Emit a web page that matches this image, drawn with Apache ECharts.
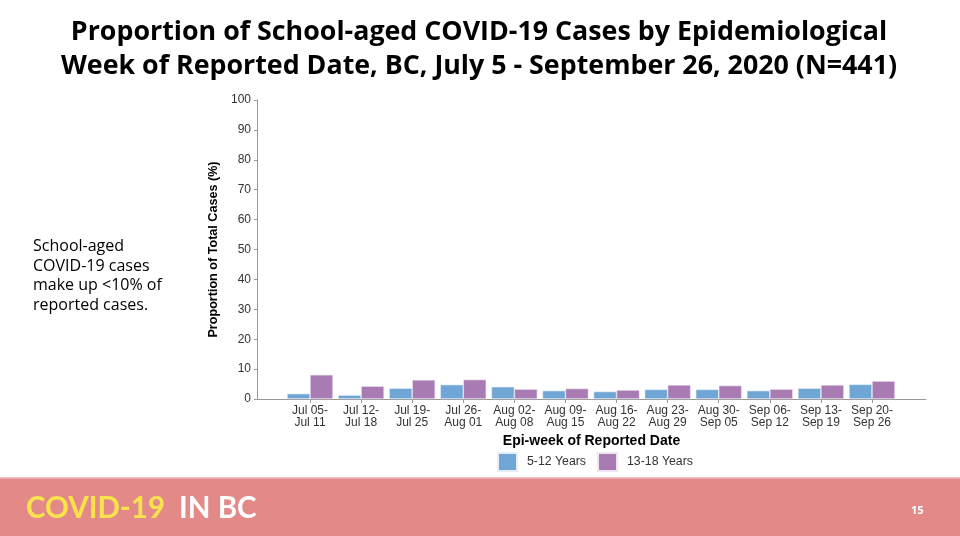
<!DOCTYPE html>
<html><head><meta charset="utf-8">
<script src="https://cdn.jsdelivr.net/npm/echarts@6/dist/echarts.min.js"></script>
<style>html,body{margin:0;padding:0;background:#fff}#c{width:960px;height:536px}</style>
</head><body><div id="c"></div>
<script>
var categories = ['Jul 05-\nJul 11','Jul 12-\nJul 18','Jul 19-\nJul 25','Jul 26-\nAug 01','Aug 02-\nAug 08','Aug 09-\nAug 15','Aug 16-\nAug 22','Aug 23-\nAug 29','Aug 30-\nSep 05','Sep 06-\nSep 12','Sep 13-\nSep 19','Sep 20-\nSep 26'];
var age5to12 = [1.8,1.3,3.6,4.8,4.1,2.8,2.5,3.2,3.2,2.8,3.6,4.9];
var age13to18 = [8.1,4.3,6.4,6.5,3.3,3.5,3.0,4.7,4.5,3.3,4.7,6.0];
var seriesNames = ['5-12 Years','13-18 Years'];
var yTicks = {min:0, max:100, interval:10};

var chart = echarts.init(document.getElementById('c'));
var lab = {fontFamily:'Liberation Sans, Arial', fontSize:12, color:'#333'};
chart.setOption({
  animation:false,
  title:{text:'Proportion of School-aged COVID-19 Cases by Epidemiological\nWeek of Reported Date, BC, July 5 - September 26, 2020 (N=441)',
    left:474, top:10, textAlign:'center',
    textStyle:{fontFamily:'Open Sans', fontWeight:'bold', fontSize:26.8, lineHeight:34, color:'#000'}},
  legend:{left:492, top:447, itemWidth:19, itemHeight:18, itemGap:11, icon:'rect',
    textStyle:{fontFamily:'Liberation Sans, Arial', fontSize:12.3, color:'#333', padding:[0,0,0,5]}, data:seriesNames},
  grid:[{left:257,right:34,top:100,bottom:137},{left:284.45,right:62.45,top:100,bottom:137}],
  xAxis:[
    {gridIndex:0,type:'value',min:0,max:1,axisLine:{show:true,lineStyle:{color:'#999'}},axisTick:{show:false},axisLabel:{show:false},splitLine:{show:false},
     name:'Epi-week of Reported Date',nameLocation:'middle',nameGap:35,nameTextStyle:{fontFamily:'Liberation Sans, Arial',fontWeight:'bold',fontSize:14,color:'#000'}},
    {gridIndex:1,type:'category',data:categories,axisLine:{show:false},axisTick:{show:true,alignWithLabel:true,length:4,lineStyle:{color:'#999'}},
     axisLabel:Object.assign({interval:0,margin:5,lineHeight:12.5},lab)}
  ],
  yAxis:[
    {gridIndex:0,type:'value',min:yTicks.min,max:yTicks.max,interval:yTicks.interval,
     axisLine:{show:true,lineStyle:{color:'#999'}},axisTick:{show:true,length:3,lineStyle:{color:'#999'}},splitLine:{show:false},
     axisLabel:Object.assign({margin:6},lab),
     name:'Proportion of Total Cases (%)',nameLocation:'middle',nameGap:37,nameRotate:90,
     nameTextStyle:{fontFamily:'Liberation Sans, Arial',fontWeight:'bold',fontSize:12.6,color:'#000'}},
    {gridIndex:1,type:'value',min:yTicks.min,max:yTicks.max,show:false}
  ],
  series:[
    {name:seriesNames[0],type:'bar',xAxisIndex:1,yAxisIndex:1,data:age5to12,barGap:'0%',barCategoryGap:'10%',
     itemStyle:{color:'#6fa6d6',borderColor:'#e8eef8',borderWidth:0.6}},
    {name:seriesNames[1],type:'bar',xAxisIndex:1,yAxisIndex:1,data:age13to18,barGap:'0%',barCategoryGap:'10%',
     itemStyle:{color:'#a97bb3',borderColor:'#efe6f2',borderWidth:0.6}}
  ],
  graphic:[
    {type:'text',left:33,top:237,style:{text:'School-aged\nCOVID-19 cases\nmake up <10% of\nreported cases.',fontFamily:'Open Sans',fontSize:16,lineHeight:19.5,fill:'#000'}},
    {type:'rect',shape:{x:0,y:478,width:960,height:58},style:{fill:'#e38a89'}},
    {type:'rect',shape:{x:0,y:477,width:960,height:1.5},style:{fill:'#f2c4c6'}},
    {type:'text',x:26,y:508,style:{text:'COVID-19',textVerticalAlign:'middle',fontFamily:'Lato',fontWeight:'bold',fontSize:29.5,fill:'#f8e34c'}},
    {type:'text',x:179,y:508,style:{text:'IN BC',textVerticalAlign:'middle',fontFamily:'Lato',fontWeight:'bold',fontSize:29.5,fill:'#ffffff'}},
    {type:'text',left:911,top:505,style:{text:'15',fontFamily:'Open Sans',fontWeight:'bold',fontSize:11,fill:'#fff'}}
  ]
});
</script></body></html>
